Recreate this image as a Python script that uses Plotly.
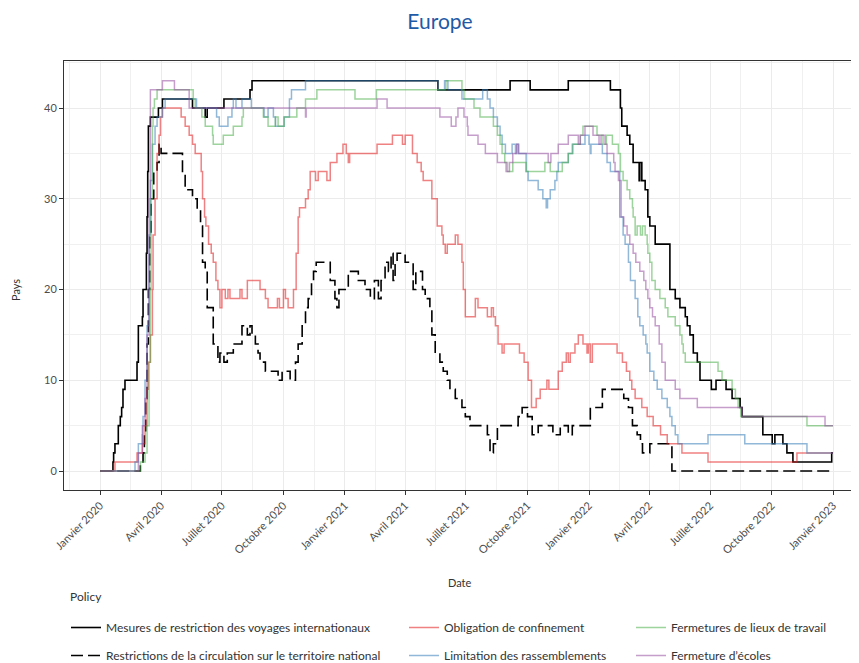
import pandas as pd
import plotly.graph_objects as go

START = pd.Timestamp("2020-01-01")

# Days since 1 Jan 2020 at which the count changes, and the number of countries (Pays)
voyages_jours = [0, 19, 20, 22, 27, 30, 32, 34, 37, 55,
                 57, 63, 64, 69, 70, 71, 72, 75, 87, 93,
                 138, 157, 160, 185, 224, 227, 505, 613, 643, 700,
                 763, 778, 780, 788, 792, 797, 806, 807, 810, 815,
                 819, 822, 830, 852, 860, 867, 875, 878, 882, 887,
                 893, 897, 914, 921, 936, 945, 957, 960, 991, 1005,
                 1009, 1021, 1027, 1036, 1094, 1096]
voyages_pays = [0, 1, 2, 3, 5, 6, 7, 9, 10, 12,
                16, 17, 20, 24, 28, 33, 38, 39, 40, 41,
                40, 39, 40, 41, 42, 43, 42, 43, 42, 43,
                42, 40, 38, 37, 36, 34, 32, 34, 32, 31,
                28, 27, 25, 20, 19, 18, 17, 16, 15, 13,
                12, 10, 9, 10, 9, 8, 7, 6, 4, 3,
                4, 3, 2, 1, 2, 2]

circulation_jours = [0, 60, 64, 66, 68, 70, 72, 74, 76, 80,
                     85, 88, 91, 123, 127, 138, 145, 150, 153, 157,
                     160, 169, 176, 179, 185, 190, 199, 212, 220, 224,
                     227, 232, 236, 239, 247, 266, 272, 284, 292, 296,
                     302, 307, 311, 316, 319, 323, 344, 351, 354, 357,
                     371, 386, 396, 404, 410, 416, 420, 426, 431, 435,
                     438, 441, 444, 456, 468, 472, 482, 486, 493, 496,
                     501, 508, 513, 519, 523, 531, 541, 546, 553, 579,
                     583, 588, 594, 625, 631, 639, 646, 655, 677, 688,
                     700, 706, 733, 751, 783, 790, 796, 803, 808, 811,
                     822, 855, 1096]
circulation_pays = [0, 1, 2, 4, 8, 14, 20, 26, 30, 33,
                    34, 36, 35, 33, 31, 30, 29, 27, 23, 22,
                    18, 14, 12, 13, 12, 13, 14, 16, 15, 16,
                    15, 14, 13, 12, 11, 10, 11, 10, 12, 14,
                    16, 18, 19, 21, 22, 23, 21, 19, 18, 20,
                    22, 21, 20, 19, 21, 19, 21, 23, 22, 24,
                    21, 23, 24, 23, 20, 22, 20, 19, 18, 15,
                    13, 12, 11, 10, 9, 8, 7, 6, 5, 4,
                    2, 3, 5, 6, 7, 6, 4, 5, 4, 5,
                    4, 5, 7, 9, 8, 7, 5, 4, 3, 2,
                    3, 0, 0]

confinement_jours = [0, 22, 55, 63, 67, 70, 72, 75, 78, 79,
                     82, 85, 88, 90, 93, 121, 127, 133, 138, 142,
                     151, 153, 156, 158, 162, 166, 169, 173, 176, 179,
                     182, 187, 191, 194, 209, 212, 220, 239, 247, 251,
                     265, 268, 274, 277, 281, 289, 293, 296, 298, 307,
                     311, 314, 322, 326, 339, 344, 354, 363, 368, 371,
                     373, 414, 437, 452, 456, 467, 474, 480, 483, 496,
                     504, 511, 513, 516, 519, 531, 535, 541, 543, 546,
                     561, 565, 579, 585, 588, 591, 595, 601, 604, 627,
                     634, 640, 645, 652, 658, 668, 671, 685, 691, 697,
                     700, 703, 710, 715, 722, 728, 730, 733, 736, 773,
                     781, 787, 792, 795, 800, 810, 818, 827, 838, 848,
                     870, 909, 1042, 1096]
confinement_pays = [0, 1, 2, 3, 5, 9, 12, 15, 20, 26,
                    30, 35, 37, 39, 40, 39, 38, 37, 36, 35,
                    33, 30, 28, 27, 25, 24, 23, 21, 20, 18,
                    20, 19, 20, 19, 20, 19, 21, 20, 19, 18,
                    19, 18, 20, 19, 18, 20, 24, 28, 29, 30,
                    31, 33, 32, 33, 32, 34, 35, 36, 35, 34,
                    35, 36, 37, 36, 37, 35, 34, 33, 32, 30,
                    27, 26, 25, 24, 25, 26, 25, 23, 20, 17,
                    19, 18, 17, 18, 17, 16, 14, 13, 14, 13,
                    12, 10, 7, 8, 9, 10, 9, 11, 12, 13,
                    12, 13, 14, 15, 14, 13, 14, 12, 14, 13,
                    12, 11, 10, 9, 8, 7, 6, 5, 4, 3,
                    2, 1, 2, 2]

travail_jours = [0, 60, 67, 70, 73, 75, 76, 78, 79, 81,
                 85, 139, 142, 152, 157, 168, 169, 184, 199, 212,
                 214, 244, 251, 262, 266, 275, 294, 307, 324, 381,
                 413, 517, 541, 544, 559, 568, 588, 594, 598, 601,
                 605, 609, 617, 637, 665, 673, 691, 700, 707, 718,
                 722, 743, 752, 757, 766, 775, 778, 782, 788, 792,
                 796, 797, 800, 803, 808, 811, 815, 818, 819, 822,
                 825, 830, 837, 845, 849, 860, 867, 870, 872, 875,
                 924, 930, 945, 950, 954, 958, 1057, 1096]
travail_pays = [0, 1, 2, 5, 12, 20, 30, 38, 40, 41,
                42, 41, 40, 39, 38, 37, 36, 37, 38, 39,
                40, 39, 38, 39, 38, 39, 40, 41, 42, 41,
                42, 43, 42, 41, 40, 39, 38, 37, 36, 35,
                34, 33, 34, 33, 34, 33, 34, 35, 36, 37,
                38, 37, 36, 37, 36, 35, 33, 32, 31, 30,
                29, 28, 26, 27, 26, 27, 26, 25, 24, 23,
                21, 20, 19, 18, 17, 16, 15, 14, 13, 12,
                11, 10, 9, 8, 7, 6, 5, 5]

rassemblements_jours = [0, 52, 57, 63, 64, 67, 70, 73, 75, 78,
                        82, 85, 93, 97, 144, 174, 178, 191, 197, 199,
                        203, 212, 226, 245, 251, 259, 262, 275, 283, 286,
                        307, 505, 515, 520, 541, 572, 579, 583, 588, 594,
                        598, 601, 606, 616, 621, 622, 625, 637, 640, 655,
                        662, 667, 669, 673, 680, 683, 685, 700, 706, 725,
                        731, 733, 734, 751, 758, 763, 777, 782, 785, 790,
                        793, 800, 804, 807, 812, 816, 818, 822, 828, 833,
                        840, 848, 852, 855, 860, 864, 909, 964, 1057, 1096]
rassemblements_pays = [0, 1, 3, 4, 6, 10, 16, 26, 32, 36,
                       38, 39, 40, 41, 40, 39, 38, 39, 40, 41,
                       40, 41, 40, 39, 40, 39, 38, 39, 41, 42,
                       43, 42, 43, 42, 41, 42, 41, 40, 39, 38,
                       37, 36, 35, 36, 35, 36, 35, 33, 32, 31,
                       30, 29, 30, 31, 32, 33, 34, 35, 36, 37,
                       36, 35, 36, 35, 34, 33, 28, 26, 25, 23,
                       21, 19, 17, 16, 15, 14, 13, 11, 10, 9,
                       8, 7, 6, 5, 4, 3, 4, 3, 2, 2]

ecoles_jours = [0, 57, 63, 67, 70, 73, 75, 93, 111, 133,
                307, 308, 414, 429, 508, 525, 532, 535, 544, 549,
                550, 565, 576, 594, 607, 612, 617, 623, 626, 670,
                674, 685, 700, 715, 718, 725, 737, 746, 749, 755,
                758, 768, 770, 775, 779, 783, 788, 792, 797, 801,
                807, 813, 816, 819, 822, 826, 830, 836, 840, 845,
                860, 867, 893, 960, 1084, 1096]
ecoles_pays = [0, 2, 5, 8, 15, 30, 42, 43, 42, 40,
               39, 40, 41, 40, 39, 38, 39, 40, 39, 38,
               37, 36, 35, 34, 33, 34, 35, 36, 35, 34,
               35, 36, 37, 36, 37, 38, 37, 36, 37, 36,
               35, 34, 33, 32, 28, 27, 26, 25, 24, 23,
               22, 21, 20, 19, 18, 17, 16, 14, 12, 10,
               9, 8, 7, 6, 5, 5]

tick_dates = ["2020-01-01", "2020-04-01", "2020-07-01", "2020-10-01",
              "2021-01-01", "2021-04-01", "2021-07-01", "2021-10-01",
              "2022-01-01", "2022-04-01", "2022-07-01", "2022-10-01",
              "2023-01-01"]
tick_labels = ["Janvier 2020", "Avril 2020", "Juillet 2020", "Octobre 2020",
               "Janvier 2021", "Avril 2021", "Juillet 2021", "Octobre 2021",
               "Janvier 2022", "Avril 2022", "Juillet 2022", "Octobre 2022",
               "Janvier 2023"]
y_ticks = [0, 10, 20, 30, 40]


def to_dates(days):
    return START + pd.to_timedelta(days, unit="D")


series = [
    # name, days, values, colour, dash, width, legend
    ("Mesures de restriction des voyages internationaux", voyages_jours, voyages_pays,
     "#000000", "solid", 1.6, "legend"),
    ("Restrictions de la circulation sur le territoire national", circulation_jours, circulation_pays,
     "#000000", "12px,5px", 1.6, "legend"),
    ("Obligation de confinement", confinement_jours, confinement_pays,
     "rgba(228,26,28,0.55)", "solid", 1.5, "legend2"),
    ("Limitation des rassemblements", rassemblements_jours, rassemblements_pays,
     "rgba(55,126,184,0.55)", "solid", 1.5, "legend2"),
    ("Fermetures de lieux de travail", travail_jours, travail_pays,
     "rgba(77,175,74,0.55)", "solid", 1.5, "legend3"),
    ("Fermeture d’écoles", ecoles_jours, ecoles_pays,
     "rgba(152,78,163,0.55)", "solid", 1.5, "legend3"),
]

fig = go.Figure()
for i, (name, days, vals, col, dash, w, leg) in enumerate(series):
    assert len(days) == len(vals), name
    fig.add_trace(go.Scatter(
        x=to_dates(days), y=vals, mode="lines", name=name,
        line=dict(color=col, dash=dash, width=w, shape="hv"),
        legend=leg, legendgroup=f"g{i}", hoverinfo="skip",
    ))

majors = pd.date_range("2019-10-01", "2023-04-01", freq="QS")
minors = majors[:-1] + (majors[1:] - majors[:-1]) / 2

W, H = 859, 663
L, T, B = 56, 53, 181          # figure margins (page adds an 8px body margin)
PW, PH = W - L, H - T - B      # plot area size
axis_col = "#333333"
grid_major = "#EBEBEB"
grid_minor = "#F0F0F0"


def px(xf):   # figure x pixel -> paper x
    return (xf - L) / PW


def py(yf):   # figure y pixel -> paper y
    return (H - B - yf) / PH


fig.update_layout(
    width=W, height=H,
    margin=dict(l=L, r=0, t=T, b=B, autoexpand=False),
    paper_bgcolor="white", plot_bgcolor="white",
    font=dict(family="Lato, 'Open Sans', sans-serif", color="#333333", size=11),
    title=dict(text="Europe", xref="container", x=432 / W, xanchor="center",
               yref="container", y=1 - 14 / H, yanchor="middle",
               font=dict(size=21, color="#1F5AA6")),
    xaxis=dict(
        type="date",
        range=["2019-11-07 19:00", "2023-02-20 19:00"],
        tickmode="array", tickvals=tick_dates, ticktext=tick_labels,
        tickangle=-45, tickfont=dict(size=11, color="#4D4D4D"),
        ticks="outside", ticklen=4, tickcolor=axis_col,
        showline=True, linecolor=axis_col, linewidth=1, mirror=True,
        showgrid=True, gridcolor=grid_major, gridwidth=1,
        minor=dict(tickmode="array", tickvals=list(minors), showgrid=True,
                   gridcolor=grid_minor, gridwidth=1, ticks=""),
        zeroline=False,
    ),
    yaxis=dict(
        range=[-2.09, 45.18],
        tickmode="array", tickvals=y_ticks,
        tickfont=dict(size=11, color="#4D4D4D"),
        ticks="outside", ticklen=4, tickcolor=axis_col,
        showline=True, linecolor=axis_col, linewidth=1, mirror=False,
        showgrid=True, gridcolor=grid_major, gridwidth=1,
        minor=dict(dtick=5, tick0=0, showgrid=True, gridcolor=grid_minor,
                   gridwidth=1, ticks=""),
        zeroline=False,
    ),
    showlegend=True,
)

leg_common = dict(orientation="v", xref="container", yref="container",
                  xanchor="left", yanchor="top", y=1 - 605 / H,
                  tracegroupgap=9, itemwidth=30, bgcolor="rgba(0,0,0,0)",
                  font=dict(size=12, color="#333333"), traceorder="grouped")
fig.update_layout(
    legend=dict(x=58 / W, **leg_common),
    legend2=dict(x=396 / W, **leg_common),
    legend3=dict(x=623 / W, **leg_common),
)

# axis titles and legend heading
fig.add_annotation(text="Date", xref="paper", yref="paper",
                   x=px(452), y=py(574), xanchor="center", yanchor="middle",
                   showarrow=False, font=dict(size=11, color="#333333"))
fig.add_annotation(text="Pays", xref="paper", yref="paper",
                   x=px(7), y=py(282), xanchor="center", yanchor="middle",
                   textangle=-90, showarrow=False,
                   font=dict(size=11, color="#333333"))
fig.add_annotation(text="Policy", xref="paper", yref="paper",
                   x=px(60), y=py(588), xanchor="left", yanchor="middle",
                   showarrow=False, font=dict(size=12, color="#333333"))

fig.write_html("out.html")
